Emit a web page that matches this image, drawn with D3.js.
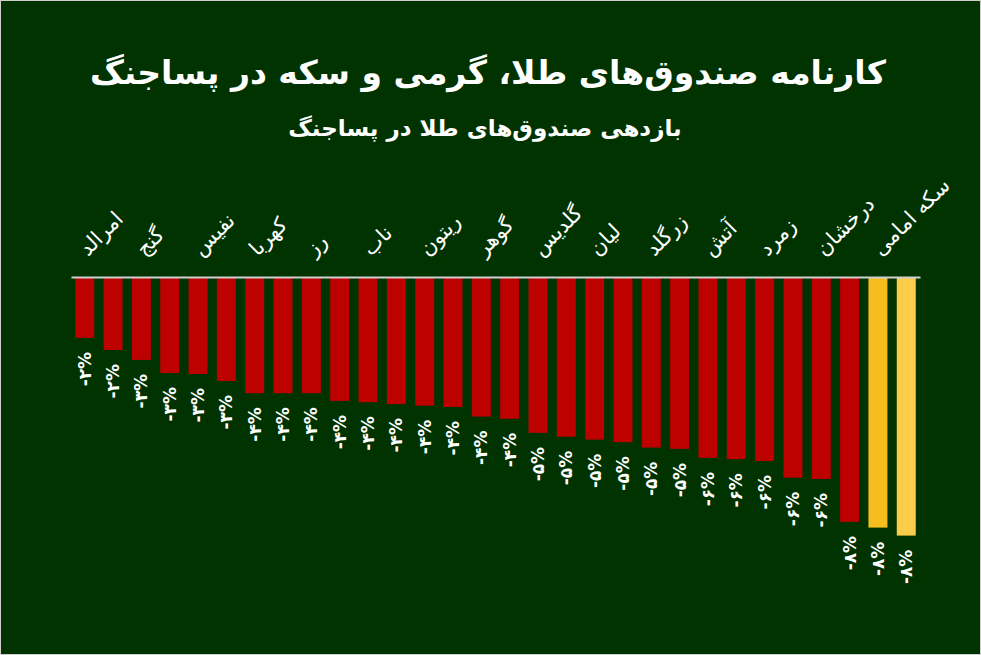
<!DOCTYPE html>
<html>
<head>
<meta charset="utf-8">
<script src="https://cdn.jsdelivr.net/npm/d3@7"></script>
<style>
  body { margin: 0; background: #013301; }
  svg { display: block; }
</style>
</head>
<body>
<div id="graph"></div>
<script>
const title = 'کارنامه صندوق‌های طلا، گرمی و سکه در پساجنگ';
const subtitle = 'بازدهی صندوق‌های طلا در پساجنگ';
// returns in percent
const values = [-1.87, -2.25, -2.56, -2.97, -3.0, -3.22, -3.6, -3.6, -3.6, -3.84,
                -3.88, -3.94, -3.99, -4.03, -4.33, -4.4, -4.84, -4.96, -5.05, -5.13,
                -5.3, -5.34, -5.62, -5.66, -5.72, -6.24, -6.28, -7.62, -7.8, -8.05];
// only every other bar has a visible name
const tickLabels = ['امرالد', 'گنج', 'نفیس', 'کهربا', 'رز', 'ناب', 'ریتون', 'گوهر',
                    'گلدیس', 'لیان', 'زرگلد', 'آتش', 'زمرد', 'درخشان', 'سکه امامی'];

const w = 981;
const h = 655;
const axis_y = 277;
const font = "'DejaVu Sans', sans-serif";
const graph = document.getElementById('graph');

const faDigits = '۰۱۲۳۴۵۶۷۸۹';
function toFa(s) {
  return String(s).replace(/[0-9]/g, (c) => faDigits[+c]);
}
function barColor(i) {
  if (i === 28) return '#f6bd1f';
  if (i === 29) return '#fbcd4b';
  return '#bd0000';
}

const svg = d3.select(graph)
  .append('svg')
  .attr('width', w)
  .attr('height', h);

svg.append('rect')
  .attr('x', 0.5).attr('y', 0.5)
  .attr('width', w - 1).attr('height', h - 1)
  .attr('fill', '#013301')
  .attr('stroke', '#cfcfcf');

const xScale = d3.scaleBand()
  .domain(d3.range(values.length))
  .range([71, 920])
  .paddingInner(0.33)
  .paddingOuter(0.15);

const yScale = d3.scaleLinear()
  .domain([0, -10])
  .range([axis_y + 1, axis_y + 321]);

// bars
svg.selectAll('rect.bar')
  .data(values)
  .enter()
  .append('rect')
  .attr('class', 'bar')
  .attr('x', (d, i) => xScale(i))
  .attr('y', yScale(0))
  .attr('width', xScale.bandwidth())
  .attr('height', (d) => yScale(d) - yScale(0))
  .attr('fill', (d, i) => barColor(i));

// value labels
svg.selectAll('text.val')
  .data(values)
  .enter()
  .append('text')
  .attr('class', 'val')
  .attr('transform', (d, i) => 'translate(' + (xScale(i) + xScale.bandwidth() / 2) + ',' + (yScale(d) + 14) + ') rotate(-90)')
  .attr('text-anchor', 'end')
  .attr('dy', '0.35em')
  .attr('fill', '#ffffff')
  .attr('font-family', font)
  .attr('font-weight', 'bold')
  .attr('font-size', 17)
  .text((d) => '-' + toFa(Math.round(Math.abs(d))) + '%');

// x-axis on top
const xAxis = d3.axisTop(xScale)
  .tickValues(d3.range(0, values.length, 2))
  .tickFormat((i) => tickLabels[i / 2])
  .tickSize(0)
  .tickSizeOuter(0);

const gx = svg.append('g')
  .attr('transform', 'translate(0,' + axis_y + ')')
  .call(xAxis);
gx.select('.domain').attr('stroke', '#d0d0d0').attr('stroke-width', 2);
gx.selectAll('text')
  .attr('x', 0).attr('y', 0).attr('dy', 0)
  .attr('transform', 'translate(3,-20) rotate(-45)')
  .attr('text-anchor', 'start')
  .attr('fill', '#ffffff')
  .attr('font-family', font)
  .attr('font-size', 21);

// titles
svg.append('text')
  .text(title)
  .attr('x', 488).attr('y', 84)
  .attr('text-anchor', 'middle')
  .attr('fill', '#ffffff')
  .attr('font-family', font)
  .attr('font-weight', 'bold')
  .attr('font-size', 33);

svg.append('text')
  .text(subtitle)
  .attr('x', 485).attr('y', 136)
  .attr('text-anchor', 'middle')
  .attr('fill', '#ffffff')
  .attr('font-family', font)
  .attr('font-weight', 'bold')
  .attr('font-size', 23);
</script>
</body>
</html>
